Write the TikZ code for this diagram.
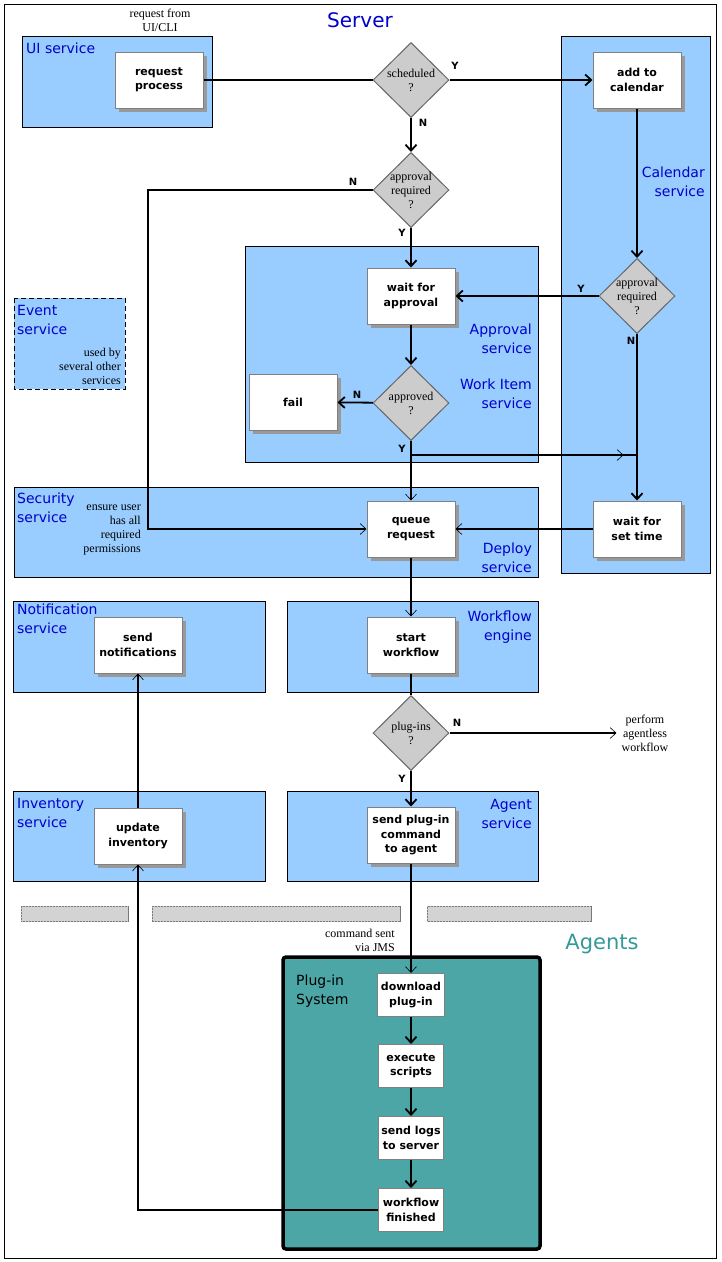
\documentclass[tikz,border=0pt]{standalone}
\usepackage{fontspec}
\setmainfont{Liberation Serif}
\setsansfont{DejaVu Sans}
\usetikzlibrary{arrows.meta,shapes.geometric,shadows,patterns,decorations.markings}

\definecolor{svcblue}{RGB}{153,204,255}
\definecolor{labelblue}{RGB}{0,0,204}
\definecolor{plugteal}{RGB}{76,166,166}
\definecolor{agentteal}{RGB}{51,153,153}
\definecolor{decgray}{RGB}{204,204,204}

\begin{document}
\begin{tikzpicture}[x=1pt, y=-1pt,
  region/.style={draw=black, line width=1pt, fill=svcblue},
  svclabel/.style={font=\sffamily\fontsize{14}{19}\selectfont, text=labelblue, inner sep=0pt},
  task/.style={draw=black!50, line width=1pt, fill=white, minimum width=88pt, minimum height=56pt,
    align=center, font=\sffamily\bfseries\fontsize{11}{14.5}\selectfont,
    drop shadow={shadow xshift=4pt, shadow yshift=-4pt, fill=black!40, opacity=1}},
  plugtask/.style={draw=black!50, line width=1pt, fill=white, minimum width=65pt, minimum height=43pt,
    align=center, font=\sffamily\bfseries\fontsize{11}{14.5}\selectfont},
  decision/.style={diamond, draw=black!60, line width=1pt, fill=decgray, minimum width=76pt,
    minimum height=75pt, inner sep=0pt},
  dectext/.style={align=center, font=\fontsize{12}{14}\selectfont, inner sep=0pt},
  note/.style={font=\fontsize{12}{14}\selectfont, inner sep=0pt},
  yn/.style={font=\sffamily\bfseries\fontsize{10}{12}\selectfont, inner sep=0pt},
  flow/.style={line width=1.8pt},
  flowbold/.style={line width=1.8pt, -{Straight Barb[length=6pt,width=11pt,line width=1.8pt]}},
  flowthin/.style={line width=1.8pt, -{Straight Barb[length=6pt,width=11pt,line width=0.6pt]}},
  hatchbar/.style={draw=black!55, line width=1pt, fill=black!18,
    postaction={pattern=north west lines, pattern color=white!85!black}}
]
\useasboundingbox (0,0) rectangle (722,1262);
\draw [line width=1pt] (4,4) rectangle (716,1258);

% service areas
\draw [region] (22,36) rectangle (212,127);
\draw [region] (561,36) rectangle (710,573);
\draw [region] (245,246) rectangle (538,462);
\draw [region, dash pattern=on 5pt off 3pt] (14,298) rectangle (125,389);
\draw [region] (14,487) rectangle (538,577);
\draw [region] (13,601) rectangle (265,692);
\draw [region] (287,601) rectangle (538,692);
\draw [region] (13,791) rectangle (265,881);
\draw [region] (287,791) rectangle (538,881);
\draw [hatchbar] (21,906) rectangle (128,921);
\draw [hatchbar] (152,906) rectangle (400,921);
\draw [hatchbar] (427,906) rectangle (591,921);
\draw [line width=3.5pt, rounded corners=3pt, fill=plugteal] (283,957) rectangle (540,1249);

\node (server) at (360,20) [font=\sffamily\fontsize{20}{24}\selectfont, text=labelblue] {Server};
\node (agents) at (602,944) [font=\sffamily\fontsize{21}{25}\selectfont, text=agentteal] {Agents};

\node (uilbl) at (26,48) [svclabel, anchor=west] {UI service};
\node (callbl) at (705,181.5) [svclabel, anchor=east, align=right] {Calendar\\service};
\node (apprlbl) at (532,338.5) [svclabel, anchor=east, align=right] {Approval\\service};
\node (worklbl) at (532,393.5) [svclabel, anchor=east, align=right] {Work Item\\service};
\node (eventlbl) at (17,319.5) [svclabel, anchor=west, align=left] {Event\\service};
\node (seclbl) at (17,507.5) [svclabel, anchor=west, align=left] {Security\\service};
\node (deploylbl) at (532,557.5) [svclabel, anchor=east, align=right] {Deploy\\service};
\node (notiflbl) at (17,618.5) [svclabel, anchor=west, align=left] {Notification\\service};
\node (wflbl) at (532,627.5) [svclabel, anchor=east, align=right] {Workflow\\engine};
\node (invlbl) at (17,812.5) [svclabel, anchor=west, align=left] {Inventory\\service};
\node (agentlbl) at (532,813.5) [svclabel, anchor=east, align=right] {Agent\\service};
\node (pluglbl) at (296,991) [svclabel, text=black, anchor=west, align=left] {Plug-in\\System};

\node (fromui) at (160,20) [note, align=center] {request from\\UI/CLI};
\node (usedby) at (121,366.5) [note, anchor=east, align=right] {used by\\several other\\services};
\node (ensure) at (141,529.5) [note, anchor=east, align=right] {ensure user\\has all\\required\\permissions};
\node (agentless) at (645,733) [note, align=center, inner xsep=5pt] {perform\\agentless\\workflow};
\node (viajms) at (395,940) [note, anchor=east, align=right] {command sent\\via JMS};

% steps
\node (req) at (159,80) [task] {request\\process};
\node (add) at (637,80) [task] {add to\\calendar};
\node (waitappr) at (411,296) [task] {wait for\\approval};
\node (fail) at (293,402) [task] {fail};
\node (queue) at (411,529) [task] {queue\\request};
\node (waitset) at (637,529) [task] {wait for\\set time};
\node (sendnotif) at (138,645) [task] {send\\notifications};
\node (startwf) at (411,645) [task] {start\\workflow};
\node (updinv) at (138,836) [task] {update\\inventory};
\node (sendcmd) at (411,835) [task] {send plug-in\\command\\to agent};

\node (download) at (411,995) [plugtask] {download\\plug-in};
\node (execute) at (411,1066) [plugtask] {execute\\scripts};
\node (sendlogs) at (411,1138) [plugtask] {send logs\\to server};
\node (finished) at (411,1210) [plugtask] {workflow\\finished};

% decisions
\node (sched) at (411,80) [decision] {};
\node (apprq) at (411,190) [decision] {};
\node (approved) at (411,403) [decision] {};
\node (apprq2) at (637,296) [decision] {};
\node (plugins) at (411,733) [decision] {};
\node (schedtxt) at (sched) [dectext] {scheduled\\?};
\node (apprqtxt) at (apprq) [dectext] {approval\\required\\?};
\node (approvedtxt) at (approved) [dectext] {approved\\?};
\node (apprq2txt) at (apprq2) [dectext] {approval\\required\\?};
\node (pluginstxt) at (plugins) [dectext] {plug-ins\\?};

\coordinate (secleft) at (148,190);
\coordinate (ybranch) at (411,455);
\coordinate (yjoin) at (637,455);

% connectors
\draw [flow] (req.east) -- (sched.west);
\path [flowbold] (sched) edge (add);
\path [flowbold] (sched) edge (apprq);
\draw [flowthin] (apprq.west) -- (secleft) |- (queue.west);
\path [flowbold] (apprq) edge (waitappr);
\path [flowbold] (waitappr) edge (approved);
\path [flowbold] (approved) edge (fail);
\path [flowthin] (approved) edge (queue);
\draw [flow, postaction={decorate, decoration={markings,
  mark=at position 0.94 with {\arrow{Straight Barb[length=6pt,width=11pt,line width=0.6pt]}}}}]
  (ybranch) -- (yjoin);
\path [flowbold] (add) edge (apprq2);
\path [flowbold] (apprq2) edge (waitappr);
\path [flowbold] (apprq2) edge (waitset);
\path [flowthin] (waitset) edge (queue);
\path [flowthin] (queue) edge (startwf);
\path [flow] (startwf) edge (plugins);
\draw [flowthin] (plugins.east) -- (agentless.west);
\path [flowbold] (plugins) edge (sendcmd);
\path [flowthin] (sendcmd) edge (download);
\path [flowbold] (download) edge (execute);
\path [flowbold] (execute) edge (sendlogs);
\path [flowbold] (sendlogs) edge (finished);
\draw [flowthin] (finished.west) -| (updinv.south);
\path [flowthin] (updinv) edge (sendnotif);

\node (schedY) at (455,66) [yn] {Y};
\node (schedN) at (423,123) [yn] {N};
\node (apprN) at (353,182) [yn] {N};
\node (apprY) at (402,233) [yn] {Y};
\node (appr2Y) at (581,289) [yn] {Y};
\node (appr2N) at (631,341) [yn] {N};
\node (okN) at (357,395) [yn] {N};
\node (okY) at (402,449) [yn] {Y};
\node (plugN) at (457,723) [yn] {N};
\node (plugY) at (402,779) [yn] {Y};

\end{tikzpicture}
\end{document}
